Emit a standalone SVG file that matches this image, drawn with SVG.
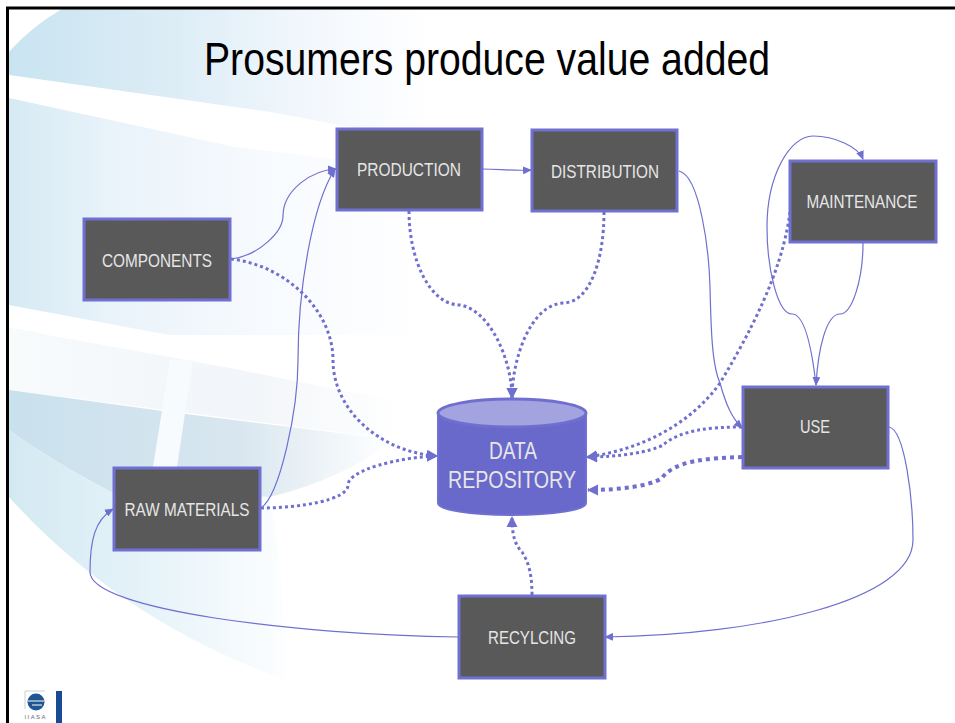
<svg xmlns="http://www.w3.org/2000/svg" width="955" height="723" viewBox="0 0 955 723">
<style>
.n{fill:#595959;stroke:#7070D2;stroke-width:3}
.t{font-family:"Liberation Sans",Arial,sans-serif;fill:#E6E6E6;font-size:18.5px;text-anchor:middle}
.c{fill:none;stroke:#6F6FD0;stroke-width:1.2}
.d{fill:none;stroke:#6F6FD0;stroke-width:3;stroke-dasharray:3 3}
.e{fill:none;stroke:#6F6FD0;stroke-width:4;stroke-dasharray:4 4}
</style>
<defs>
<linearGradient id="g" gradientUnits="userSpaceOnUse" x1="9" y1="0" x2="430" y2="0"><stop offset="0" stop-color="#C9E4F1"/><stop offset=".4" stop-color="#DDEDF6"/><stop offset=".7" stop-color="#F2F7FD"/><stop offset="1" stop-color="#FFFFFF"/></linearGradient>
<linearGradient id="m" gradientUnits="userSpaceOnUse" x1="9" y1="0" x2="430" y2="0"><stop offset="0" stop-color="#D6EAF4"/><stop offset=".25" stop-color="#E9F3FA"/><stop offset=".6" stop-color="#F7FAFE"/><stop offset="1" stop-color="#FFFFFF"/></linearGradient>
<linearGradient id="p" gradientUnits="userSpaceOnUse" x1="9" y1="0" x2="400" y2="0"><stop offset="0" stop-color="#F8FBFC"/><stop offset=".6" stop-color="#F2F5F9"/><stop offset="1" stop-color="#FFFFFF"/></linearGradient>
<linearGradient id="h" gradientUnits="userSpaceOnUse" x1="9" y1="0" x2="390" y2="0"><stop offset="0" stop-color="#C9E1ED"/><stop offset=".6" stop-color="#D8E6EF"/><stop offset="1" stop-color="#FFFFFF"/></linearGradient>
<linearGradient id="l" gradientUnits="userSpaceOnUse" x1="9" y1="0" x2="290" y2="0"><stop offset="0" stop-color="#D3E9F2"/><stop offset=".5" stop-color="#E6F3F9"/><stop offset="1" stop-color="#FDFEFF"/></linearGradient>
<marker id="a" markerWidth="10" markerHeight="8" refX="8" refY="4" orient="auto" markerUnits="userSpaceOnUse"><path d="M0,0L9,4L0,8z" fill="#6F6FD0"/></marker>
<marker id="b" markerWidth="12" markerHeight="12" refX="10" refY="6" orient="auto" markerUnits="userSpaceOnUse"><path d="M0,0.5L11,6L0,11.5z" fill="#6F6FD0"/></marker>
</defs>
<rect width="955" height="723" fill="#fff"/>
<g id="background">
<path d="M9,52Q30,28 62,9H430V335H9z" fill="url(#m)"/>
<path d="M9,52Q30,28 62,9H430V142L270,112L9,75z" fill="url(#g)"/>
<path d="M9,75L270,112L470,150L470,175L235,147L9,98z" fill="#fff"/>
<path d="M9,305L233,347L430,385L430,410L230,368L9,328z" fill="#fff"/>
<path d="M9,328L230,368L400,402V440L9,390z" fill="url(#p)"/>
<path d="M9,390L170,412L395,440Q340,480 270,497L113,493Q50,460 9,430z" fill="url(#h)"/>
<path d="M9,430Q50,460 113,493L270,497Q285,580 285,680Q120,620 9,497z" fill="url(#l)"/>
<path d="M170,360L193,360L177,467L153,467z" fill="#F8FBFE"/>
</g>
<path d="M7.5,723V8H955" fill="none" stroke="#000" stroke-width="3"/>
<text x="487" y="75" font-family="'Liberation Sans',Arial,sans-serif" font-size="46" fill="#000" text-anchor="middle" textLength="566" lengthAdjust="spacingAndGlyphs">Prosumers produce value added</text>
<g id="connectors">
<path class="c" marker-end="url(#a)" d="M231,259C258,256 283,232 283,216C283,190 312,170 336,169"/>
<path class="c" marker-end="url(#a)" d="M261,508C280,495 298,410 298,360C298,290 312,205 335,169"/>
<path class="c" marker-end="url(#a)" d="M482,169C500,169 510,171 531,170"/>
<path class="c" marker-end="url(#a)" d="M679,171C700,176 709,250 710,287C711,330 712,365 720,383C726,405 732,418 742,428"/>
<path class="c" marker-end="url(#a)" d="M816,385C812,350 805,314 792,314C778,314 767,270 767,227C767,175 790,136 813,136C835,136 858,147 863,159"/>
<path class="c" marker-end="url(#a)" d="M863,243C863,280 852,314 840,314C826,314 818,350 816,385"/>
<path class="c" marker-end="url(#a)" d="M889,427C905,430 913,500 913,540C913,600 760,635 605,637"/>
<path class="c" marker-end="url(#a)" d="M458,637C300,635 90,610 90,572C90,540 95,520 113,509"/>
<path class="d" marker-end="url(#b)" d="M231,259C285,265 333,310 333,360C333,410 380,452 437,456"/>
<path class="d" marker-end="url(#b)" d="M261,508C300,508 348,500 348,485C348,470 400,457 437,456"/>
<path class="d" marker-end="url(#b)" d="M409,211C409,260 430,305 460,305C490,310 512,360 512,398"/>
<path class="d" marker-end="url(#b)" d="M604,212C604,260 590,303 563,303C530,305 512,360 512,398"/>
<path class="d" marker-end="url(#b)" d="M790,212C785,250 770,300 720,383C690,425 640,450 587,457"/>
<path class="d" marker-end="url(#b)" d="M742,427C710,427 680,430 663,445C650,452 620,457 587,457"/>
<path class="e" marker-end="url(#b)" d="M742,457C710,458 675,460 662,478C650,486 620,490 588,490"/>
<path class="d" marker-end="url(#b)" d="M532,595C532,570 527,560 522,552C515,545 512,535 512,517"/>
</g>
<g id="production"><rect class="n" x="337" y="129" width="145" height="81"/><text class="t" x="409" y="176" textLength="104" lengthAdjust="spacingAndGlyphs">PRODUCTION</text></g>
<g id="distribution"><rect class="n" x="532" y="130" width="145" height="81"/><text class="t" x="605" y="178" textLength="108" lengthAdjust="spacingAndGlyphs">DISTRIBUTION</text></g>
<g id="maintenance"><rect class="n" x="790" y="161" width="146" height="81"/><text class="t" x="862" y="208" textLength="111" lengthAdjust="spacingAndGlyphs">MAINTENANCE</text></g>
<g id="use"><rect class="n" x="743" y="387" width="145" height="81"/><text class="t" x="815" y="433" textLength="30" lengthAdjust="spacingAndGlyphs">USE</text></g>
<g id="components"><rect class="n" x="84" y="219" width="146" height="81"/><text class="t" x="157" y="267" textLength="110" lengthAdjust="spacingAndGlyphs">COMPONENTS</text></g>
<g id="raw-materials"><rect class="n" x="114" y="468" width="146" height="82"/><text class="t" x="187" y="516" textLength="125" lengthAdjust="spacingAndGlyphs">RAW MATERIALS</text></g>
<g id="recycling"><rect class="n" x="459" y="596" width="146" height="82"/><text class="t" x="532" y="644" textLength="88" lengthAdjust="spacingAndGlyphs">RECYLCING</text></g>
<g id="data-repository">
<path d="M438,413V503C438,510 470,515 512,515C554,515 586,510 586,503V413z" fill="#6969CC" stroke="#7070D2" stroke-width="2"/>
<ellipse cx="512" cy="413" rx="74" ry="14" fill="#A3A3E0" stroke="#6F6FD0" stroke-width="3"/>
<text class="t" x="513" y="459" style="font-size:23px" textLength="48" lengthAdjust="spacingAndGlyphs">DATA</text>
<text class="t" x="512" y="488" style="font-size:23px" textLength="128" lengthAdjust="spacingAndGlyphs">REPOSITORY</text>
</g>
<g id="logo">
<path d="M25,709V691H45" fill="none" stroke="#C8D0DA"/>
<circle cx="36" cy="702" r="8.5" fill="#1F5590"/>
<path d="M28,701H44M32,705H42" stroke="#fff" stroke-width="1.2"/>
<text x="35" y="719" font-family="'Liberation Sans',Arial,sans-serif" font-size="6" fill="#667" text-anchor="middle" textLength="21">IIASA</text>
<rect x="56" y="691" width="6" height="32" fill="#1A4A96"/>
</g>
</svg>
